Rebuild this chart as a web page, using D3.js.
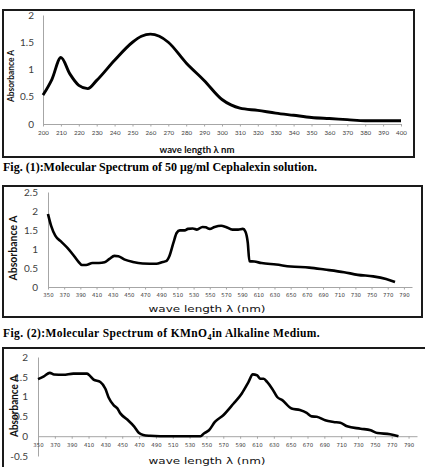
<!DOCTYPE html>
<html>
<head>
<meta charset="utf-8">
<script src="https://cdn.jsdelivr.net/npm/d3@7"></script>
<style>
  body { margin: 0; background: #fff; }
  svg { display: block; }
</style>
</head>
<body>
<div id="chart"></div>
<script>
// Fig 1 - Cephalexin
var cephWave = [200, 205, 210, 215, 220, 225, 230, 240, 250, 255, 260, 265, 270, 280, 290, 300, 305, 310, 320, 330, 340, 350, 360, 370, 380, 390, 400];
var cephAbs  = [0.53, 0.82, 1.22, 0.92, 0.71, 0.65, 0.80, 1.17, 1.50, 1.61, 1.65, 1.61, 1.50, 1.12, 0.80, 0.45, 0.35, 0.29, 0.25, 0.20, 0.16, 0.12, 0.10, 0.08, 0.06, 0.06, 0.06];
var cephXTicks = d3.range(200, 401, 10);
var cephYTicks = [0, 0.5, 1, 1.5, 2];

// Fig 2 - KMnO4
var kmnWave = [350, 354, 359, 366, 374, 381, 387, 392, 397, 405, 413, 420, 426, 432, 437, 445, 455, 467, 484, 492, 496, 500, 505, 509, 513, 519, 523, 529, 534, 541, 545, 550, 556, 564, 570, 578, 585, 591, 594, 597, 599, 605, 614, 632, 650, 673, 692, 716, 733, 752, 768, 779];
var kmnAbs  = [1.92, 1.60, 1.35, 1.20, 1.03, 0.85, 0.68, 0.58, 0.58, 0.63, 0.63, 0.65, 0.74, 0.82, 0.81, 0.72, 0.66, 0.62, 0.61, 0.66, 0.68, 0.81, 1.16, 1.42, 1.49, 1.49, 1.53, 1.54, 1.51, 1.58, 1.57, 1.53, 1.58, 1.61, 1.58, 1.51, 1.51, 1.53, 1.46, 1.16, 0.68, 0.67, 0.63, 0.59, 0.54, 0.51, 0.46, 0.39, 0.32, 0.28, 0.21, 0.13];
var kmnYTicks = [0, 0.5, 1, 1.5, 2, 2.5];

// Fig 3 - third spectrum
var thirdWave = [350, 357, 364, 369, 380, 392, 408, 411, 416, 424, 430, 434, 440, 444, 448, 456, 464, 470, 475, 483, 495, 543, 547, 553, 560, 570, 582, 592, 600, 605, 610, 614, 618, 622, 628, 634, 640, 651, 661, 669, 675, 681, 691, 701, 709, 717, 733, 745, 753, 768, 778];
var thirdAbs  = [1.44, 1.51, 1.60, 1.56, 1.55, 1.58, 1.58, 1.54, 1.43, 1.37, 1.20, 0.97, 0.78, 0.71, 0.57, 0.42, 0.25, 0.08, 0.03, 0.01, 0, 0, 0.07, 0.15, 0.36, 0.53, 0.82, 1.08, 1.37, 1.56, 1.54, 1.45, 1.45, 1.37, 1.20, 0.99, 0.91, 0.70, 0.66, 0.59, 0.50, 0.49, 0.40, 0.36, 0.34, 0.25, 0.19, 0.15, 0.08, 0.05, 0];
var thirdYTicks = [-0.5, 0, 0.5, 1, 1.5, 2];

var longXTicks = d3.range(350, 791, 20);

var W = 425, H = 467;
var LABEL_FONT = "Lato, 'Open Sans', sans-serif";
var WIDE_FONT = "'DejaVu Sans', Verdana, sans-serif";
var SERIF = "'Liberation Serif', 'Times New Roman', serif";
var TICK_COLOR = "#404040";
var AXIS_COLOR = "#a6a6a6";

var svg = d3.select("#chart").append("svg").attr("width", W).attr("height", H);

function drawPanel(p) {
  var g = svg.append("g");

  g.append("rect")
    .attr("x", p.frame[0]).attr("y", p.frame[1])
    .attr("width", p.frame[2]).attr("height", p.frame[3])
    .attr("fill", "#fff").attr("stroke", "#1a1a1a").attr("stroke-width", 2);

  var x = d3.scaleLinear().domain(p.xDomain).range(p.xRange);
  var y = d3.scaleLinear().domain(p.yDomain).range(p.yRange);

  // y axis
  var yAxis = g.append("g").attr("transform", "translate(" + p.xRange[0] + ",0)")
    .call(d3.axisLeft(y).tickValues(p.yTicks).tickSize(0).tickPadding(p.yPad).tickFormat(function(d){ return String(d); }));
  yAxis.select(".domain").attr("stroke", AXIS_COLOR);
  yAxis.selectAll("text").attr("font-family", LABEL_FONT).attr("font-size", p.yFont).attr("fill", TICK_COLOR);

  // x axis
  var xAxis = g.append("g").attr("transform", "translate(0," + y(0) + ")")
    .call(d3.axisBottom(x).tickValues(p.xTicks).tickSizeOuter(0).tickSizeInner(2.5).tickPadding(p.xPad));
  xAxis.select(".domain").attr("stroke", AXIS_COLOR);
  xAxis.selectAll(".tick line").attr("stroke", AXIS_COLOR);
  xAxis.selectAll("text").attr("font-family", p.xTickFont).attr("font-size", p.xFont).attr("fill", TICK_COLOR);

  var line = d3.line()
    .x(function(d){ return x(d[0]); })
    .y(function(d){ return y(d[1]); })
    .curve(d3.curveMonotoneX);

  g.append("path")
    .datum(d3.zip(p.wave, p.abs))
    .attr("d", line)
    .attr("fill", "none")
    .attr("stroke", "#000")
    .attr("stroke-width", p.lineWidth)
    .attr("stroke-linejoin", "round");

  // axis titles
  g.append("text")
    .attr("x", p.xTitle[0]).attr("y", p.xTitle[1])
    .attr("text-anchor", "middle")
    .attr("font-family", p.xTitleFont).attr("font-weight", p.xTitleWeight)
    .attr("font-size", p.xTitleSize).attr("fill", "#111")
    .attr("textLength", p.xTitle[2]).attr("lengthAdjust", "spacingAndGlyphs")
    .text(p.xTitleText);

  g.append("text")
    .attr("transform", "translate(" + p.yTitle[0] + "," + p.yTitle[1] + ") rotate(-90)")
    .attr("text-anchor", "middle")
    .attr("font-family", LABEL_FONT).attr("font-weight", "bold")
    .attr("font-size", p.yTitleSize).attr("fill", "#111")
    .attr("textLength", p.yTitle[2]).attr("lengthAdjust", "spacingAndGlyphs")
    .text("Absorbance A");
}

drawPanel({
  frame: [3, 10, 411, 147],
  xDomain: [200, 400], xRange: [43, 401],
  yDomain: [0, 2], yRange: [124, 15],
  xTicks: cephXTicks, yTicks: cephYTicks,
  wave: cephWave, abs: cephAbs, lineWidth: 2.9,
  yFont: 10, yPad: 9, xFont: 6.2, xPad: 4, xTickFont: LABEL_FONT,
  xTitle: [197, 153, 75], xTitleText: "wave length  \u03bb nm",
  xTitleFont: LABEL_FONT, xTitleWeight: "bold", xTitleSize: 9,
  yTitle: [14, 76, 52], yTitleSize: 9
});

drawPanel({
  frame: [3, 186, 419, 131],
  xDomain: [350, 800], xRange: [48, 412],
  yDomain: [0, 2.5], yRange: [287, 192],
  xTicks: longXTicks, yTicks: kmnYTicks,
  wave: kmnWave, abs: kmnAbs, lineWidth: 2.6,
  yFont: 10, yPad: 10, xFont: 5.4, xPad: 4, xTickFont: WIDE_FONT,
  xTitle: [207, 312, 117], xTitleText: "wave length \u03bb (nm)",
  xTitleFont: WIDE_FONT, xTitleWeight: "normal", xTitleSize: 9.5,
  yTitle: [17, 248, 65], yTitleSize: 10.5
});

drawPanel({
  frame: [3, 348, 430, 130],
  xDomain: [350, 800], xRange: [38, 417],
  yDomain: [-0.5, 2], yRange: [456, 357],
  xTicks: longXTicks, yTicks: thirdYTicks,
  wave: thirdWave, abs: thirdAbs, lineWidth: 2.6,
  yFont: 10, yPad: 10, xFont: 5.4, xPad: 4, xTickFont: WIDE_FONT,
  xTitle: [207, 464, 117], xTitleText: "wave length \u03bb (nm)",
  xTitleFont: WIDE_FONT, xTitleWeight: "normal", xTitleSize: 9.5,
  yTitle: [18, 406, 62], yTitleSize: 10.5
});

// captions
svg.append("text")
  .attr("x", 3).attr("y", 171)
  .attr("font-family", SERIF)
  .attr("font-weight", "bold").attr("font-size", 11.5).attr("fill", "#000")
  .attr("textLength", 314).attr("lengthAdjust", "spacingAndGlyphs")
  .text("Fig. (1):Molecular Spectrum of 50 \u03bcg/ml Cephalexin solution.");

var cap2 = svg.append("text")
  .attr("x", 3).attr("y", 337)
  .attr("font-family", SERIF)
  .attr("font-weight", "bold").attr("font-size", 11.5).attr("fill", "#000")
  .attr("letter-spacing", 0.4);
cap2.append("tspan").text("Fig. (2):Molecular Spectrum of KMnO");
cap2.append("tspan").attr("font-size", 8).attr("dy", 2.5).text("4");
cap2.append("tspan").attr("dy", -2.5).text("in Alkaline Medium.");
</script>
</body>
</html>
